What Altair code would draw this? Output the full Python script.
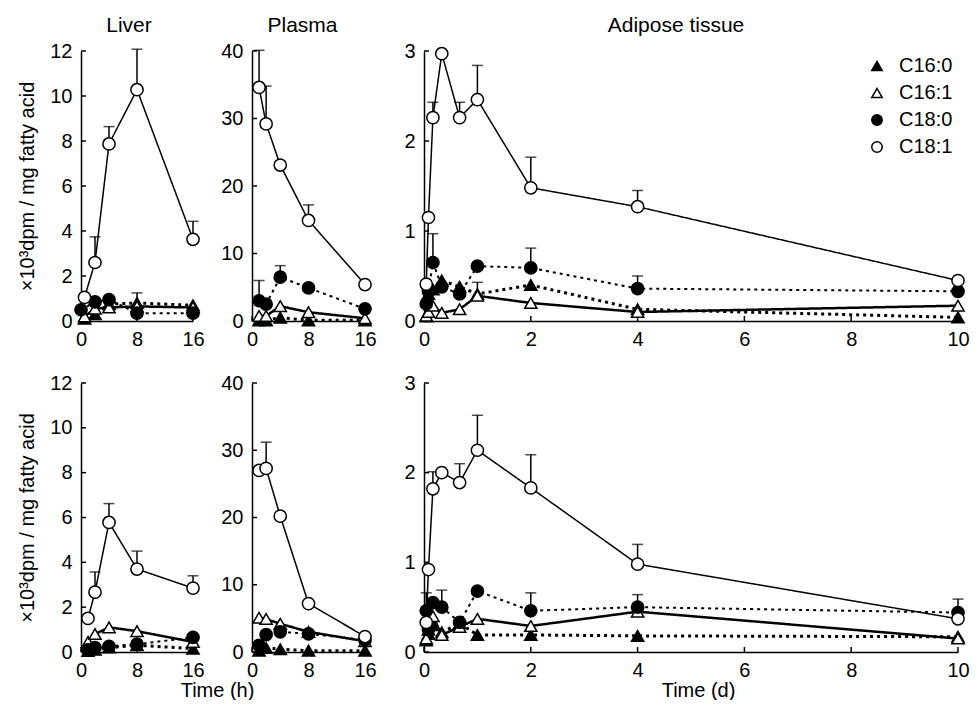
import altair as alt
import pandas as pd

FONT = "Liberation Sans"
ACIDS = ["C16:0", "C16:1", "C18:0", "C18:1"]

# ---------------- data ----------------
# Row 1 - Liver (time, h)
liver1_time = {"C16:0": [0.5, 2, 4, 8, 16], "C16:1": [0.5, 2, 4, 8, 16],
               "C18:0": [0, 2, 4, 8, 16], "C18:1": [0.5, 2, 4, 8, 16]}
liver1_val = {"C16:0": [0.1, 0.3, 0.75, 0.8, 0.7],
              "C16:1": [0.2, 0.55, 0.6, 0.65, 0.6],
              "C18:0": [0.5, 0.85, 0.95, 0.35, 0.35],
              "C18:1": [1.05, 2.6, 7.87, 10.28, 3.63]}
liver1_err = {"C16:0": [0, 0.1, 0.2, 0.1, 0.1],
              "C16:1": [0, 0.15, 0.15, 0.6, 0.35],
              "C18:0": [0, 0.2, 0.35, 0.1, 0.1],
              "C18:1": [0, 1.14, 0.77, 1.8, 0.8]}

# Row 1 - Plasma (time, h)
plasma_hours = [1, 2, 4, 8, 16]
plasma1_val = {"C16:0": [0.1, 0.1, 0.5, 0.1, 0.1],
               "C16:1": [0.75, 0.75, 2.2, 1.3, 0.4],
               "C18:0": [3.0, 2.5, 6.5, 4.9, 1.8],
               "C18:1": [34.6, 29.2, 23.1, 14.9, 5.4]}
plasma1_err = {"C16:0": [0, 0, 0.6, 0, 0],
               "C16:1": [0.2, 0.2, 0.5, 0.3, 0.2],
               "C18:0": [3.0, 0.3, 1.7, 1.4, 0.3],
               "C18:1": [5.5, 5.6, 1.5, 2.3, 1.2]}

# Adipose tissue (time, d)
adipose_days = [0.042, 0.083, 0.167, 0.333, 0.667, 1, 2, 4, 10]
adipose1_val = {"C16:0": [0.05, 0.3, 0.35, 0.45, 0.38, 0.3, 0.4, 0.13, 0.04],
                "C16:1": [0.06, 0.1, 0.17, 0.09, 0.13, 0.28, 0.2, 0.1, 0.17],
                "C18:0": [0.19, 0.33, 0.65, 0.38, 0.3, 0.61, 0.59, 0.36, 0.33],
                "C18:1": [0.41, 1.15, 2.26, 2.97, 2.26, 2.46, 1.48, 1.27, 0.45]}
adipose1_err = {"C16:0": [0.02, 0.05, 0.1, 0.05, 0.05, 0.1, 0.05, 0.04, 0.02],
                "C16:1": [0.02, 0.03, 0.05, 0.04, 0.1, 0.15, 0.06, 0.04, 0.05],
                "C18:0": [0.05, 0.1, 0.32, 0.1, 0.12, 0.1, 0.22, 0.14, 0.05],
                "C18:1": [0.02, 0.05, 0.17, 0.1, 0.17, 0.38, 0.34, 0.18, 0.07]}

# Row 2 - Liver
liver_hours = [1, 2, 4, 8, 16]
liver2_val = {"C16:0": [0.05, 0.1, 0.2, 0.3, 0.15],
              "C16:1": [0.45, 0.8, 1.1, 0.93, 0.45],
              "C18:0": [0.1, 0.2, 0.25, 0.35, 0.65],
              "C18:1": [1.5, 2.67, 5.78, 3.7, 2.85]}
liver2_err = {"C16:0": [0.02, 0.05, 0.05, 0.05, 0.05],
              "C16:1": [0.05, 0.1, 0.1, 0.1, 0.1],
              "C18:0": [0.05, 0.05, 0.05, 0.1, 0.2],
              "C18:1": [0.2, 0.9, 0.84, 0.8, 0.55]}

# Row 2 - Plasma
plasma2_val = {"C16:0": [0.2, 0.6, 0.4, 0.2, 0.2],
               "C16:1": [5.1, 4.9, 4.2, 3.0, 1.6],
               "C18:0": [1.0, 2.6, 3.0, 2.7, 1.8],
               "C18:1": [27.0, 27.3, 20.2, 7.2, 2.3]}
plasma2_err = {"C16:0": [0.1, 0.1, 0.1, 0.1, 0.1],
               "C16:1": [0.2, 0.2, 0.2, 1.3, 0.3],
               "C18:0": [0.8, 1.0, 0.3, 0.3, 0.4],
               "C18:1": [1.0, 3.9, 0.3, 1.1, 1.0]}

# Row 2 - Adipose tissue
adipose2_val = {"C16:0": [0.13, 0.2, 0.3, 0.22, 0.32, 0.19, 0.19, 0.18, 0.17],
                "C16:1": [0.15, 0.25, 0.4, 0.19, 0.28, 0.37, 0.29, 0.45, 0.15],
                "C18:0": [0.46, 0.25, 0.55, 0.5, 0.33, 0.68, 0.46, 0.5, 0.44],
                "C18:1": [0.33, 0.92, 1.82, 2.0, 1.89, 2.25, 1.83, 0.98, 0.37]}
adipose2_err = {"C16:0": [0.03, 0.05, 0.05, 0.05, 0.12, 0.05, 0.05, 0.05, 0.03],
                "C16:1": [0.05, 0.1, 0.05, 0.1, 0.08, 0.05, 0.05, 0.05, 0.05],
                "C18:0": [0.2, 0.08, 0.1, 0.19, 0.09, 0.1, 0.2, 0.14, 0.05],
                "C18:1": [0.05, 0.08, 0.19, 0.1, 0.21, 0.39, 0.37, 0.22, 0.22]}

# axis tick values
liver_yticks = [0, 2, 4, 6, 8, 10, 12]
plasma_yticks = [0, 10, 20, 30, 40]
adipose_yticks = [0, 1, 2, 3]
hour_xticks = [0, 8, 16]
day_xticks = [0, 2, 4, 6, 8, 10]

YTITLE = "\u00d710\u00b3dpm / mg fatty acid"

# ---------------- styles ----------------
SHAPES = ["triangle-up", "triangle-up", "circle", "circle"]
FILLS = ["black", "white", "black", "white"]
STROKES = ["black", "black", "black", "black"]
DASHES = [[3, 4], [1, 0], [3, 4], [1, 0]]
WIDTHS = [3, 1.5, 3, 1.5]


def long_df(times, vals, errs):
    rows = []
    for a in ACIDS:
        tt = times[a] if isinstance(times, dict) else times
        for t, v, e in zip(tt, vals[a], errs[a]):
            rows.append({"acid": a, "t": t, "v": v, "e": e, "top": v + e})
    return pd.DataFrame(rows)


def panel(df, xdom, xticks, ydom, yticks, w, h, title=None, title_dx=0,
          xtitle=None, xtitle_x=None, ytitle=None, legend=False):
    xaxis_kw = dict(values=xticks, title=xtitle, labelPadding=8, titlePadding=0,
                    labelFlush=False)
    if xtitle_x is not None:
        xaxis_kw["titleX"] = xtitle_x
    xs = alt.Scale(domain=xdom, nice=False, zero=False)
    ys = alt.Scale(domain=ydom, nice=False, zero=False)
    X = alt.X("t:Q", scale=xs, axis=alt.Axis(**xaxis_kw))
    yaxis = alt.Axis(values=yticks, title=ytitle, labelPadding=9, titlePadding=12,
                     labelFlush=False)
    Y = alt.Y("v:Q", scale=ys, axis=yaxis)
    Ytop = alt.Y("top:Q", scale=ys, axis=yaxis)
    base = alt.Chart(df)
    errd = base.transform_filter("datum.e > 0.04 * %f" % ydom[1])
    rules = errd.mark_rule(color="black", strokeWidth=1.5).encode(
        x=X, y=Y, y2="top:Q")
    caps = errd.mark_tick(color="black", orient="horizontal", size=11,
                          thickness=1.5).encode(x=X, y=Ytop)
    lines = base.mark_line(color="black", strokeCap="butt").encode(
        x=X, y=Y, detail="acid:N",
        strokeDash=alt.StrokeDash("acid:N", scale=alt.Scale(domain=ACIDS, range=DASHES), legend=None),
        strokeWidth=alt.StrokeWidth("acid:N", scale=alt.Scale(domain=ACIDS, range=WIDTHS), legend=None),
    )
    if legend:
        lg = alt.Legend(title=None, orient="top-right", offset=5, padding=0,
                        labelFont=FONT, labelFontSize=20, labelColor="black",
                        symbolSize=110, symbolStrokeColor="black",
                        symbolStrokeWidth=1.5, rowPadding=7, labelOffset=12)
    else:
        lg = None
    points = base.mark_point(filled=True, strokeWidth=1.5,
                             size=150, opacity=1).encode(
        x=X, y=Y,
        shape=alt.Shape("acid:N", scale=alt.Scale(domain=ACIDS, range=SHAPES), legend=lg),
        fill=alt.Fill("acid:N", scale=alt.Scale(domain=ACIDS, range=FILLS), legend=lg),
        stroke=alt.Stroke("acid:N", scale=alt.Scale(domain=ACIDS, range=STROKES), legend=lg),
    )
    ytk = alt.Chart(pd.DataFrame({"v": yticks})).mark_rule(
        color="black", strokeWidth=1.5).encode(y=Y, x=alt.value(0), x2=alt.value(5))
    xtk = alt.Chart(pd.DataFrame({"t": xticks})).mark_rule(
        color="black", strokeWidth=1.5).encode(x=X, y=alt.value(h), y2=alt.value(h - 5))
    ch = alt.layer(ytk, xtk, rules, caps, lines, points).properties(width=w, height=h)
    if title:
        ch = ch.properties(title=alt.TitleParams(
            title, font=FONT, fontSize=21, fontWeight="normal", color="black",
            offset=-12, frame="group", baseline="alphabetic", anchor="middle",
            dx=title_dx))
    return ch


W_L, W_P, W_A = 112, 113, 534
H1, H2 = 270, 269

panels = [
    panel(long_df(liver1_time, liver1_val, liver1_err), [0, 16], hour_xticks,
          [0, 12], liver_yticks, W_L, H1, title="Liver", title_dx=-8, ytitle=YTITLE),
    panel(long_df(plasma_hours, plasma1_val, plasma1_err), [0, 16], hour_xticks,
          [0, 40], plasma_yticks, W_P, H1, title="Plasma", title_dx=-6),
    panel(long_df(adipose_days, adipose1_val, adipose1_err), [0, 10], day_xticks,
          [0, 3], adipose_yticks, W_A, H1, title="Adipose tissue", title_dx=-15,
          legend=True),
    panel(long_df(liver_hours, liver2_val, liver2_err), [0, 16], hour_xticks,
          [0, 12], liver_yticks, W_L, H2, ytitle=YTITLE, xtitle="Time (h)",
          xtitle_x=136),
    panel(long_df(plasma_hours, plasma2_val, plasma2_err), [0, 16], hour_xticks,
          [0, 40], plasma_yticks, W_P, H2),
    panel(long_df(adipose_days, adipose2_val, adipose2_err), [0, 10], day_xticks,
          [0, 3], adipose_yticks, W_A, H2, xtitle="Time (d)", xtitle_x=W_A / 2 + 7),
]

chart = alt.concat(
    *panels, columns=3, spacing={"row": 62, "column": 59}, bounds="flush"
).resolve_scale(
    shape="independent", fill="independent", stroke="independent"
).resolve_legend(shape="independent", fill="independent", stroke="independent").properties(
    padding={"left": 9, "top": 7, "right": 0, "bottom": 0},
    background="white",
).configure_axis(
    domainColor="black", domainWidth=1.5, ticks=False, grid=False,
    labelFont=FONT, labelFontSize=20, labelColor="black",
    titleFont=FONT, titleFontSize=20, titleFontWeight="normal", titleColor="black",
).configure_view(stroke=None)

chart.save("out.html", embed_options={"renderer": "svg", "actions": False})
